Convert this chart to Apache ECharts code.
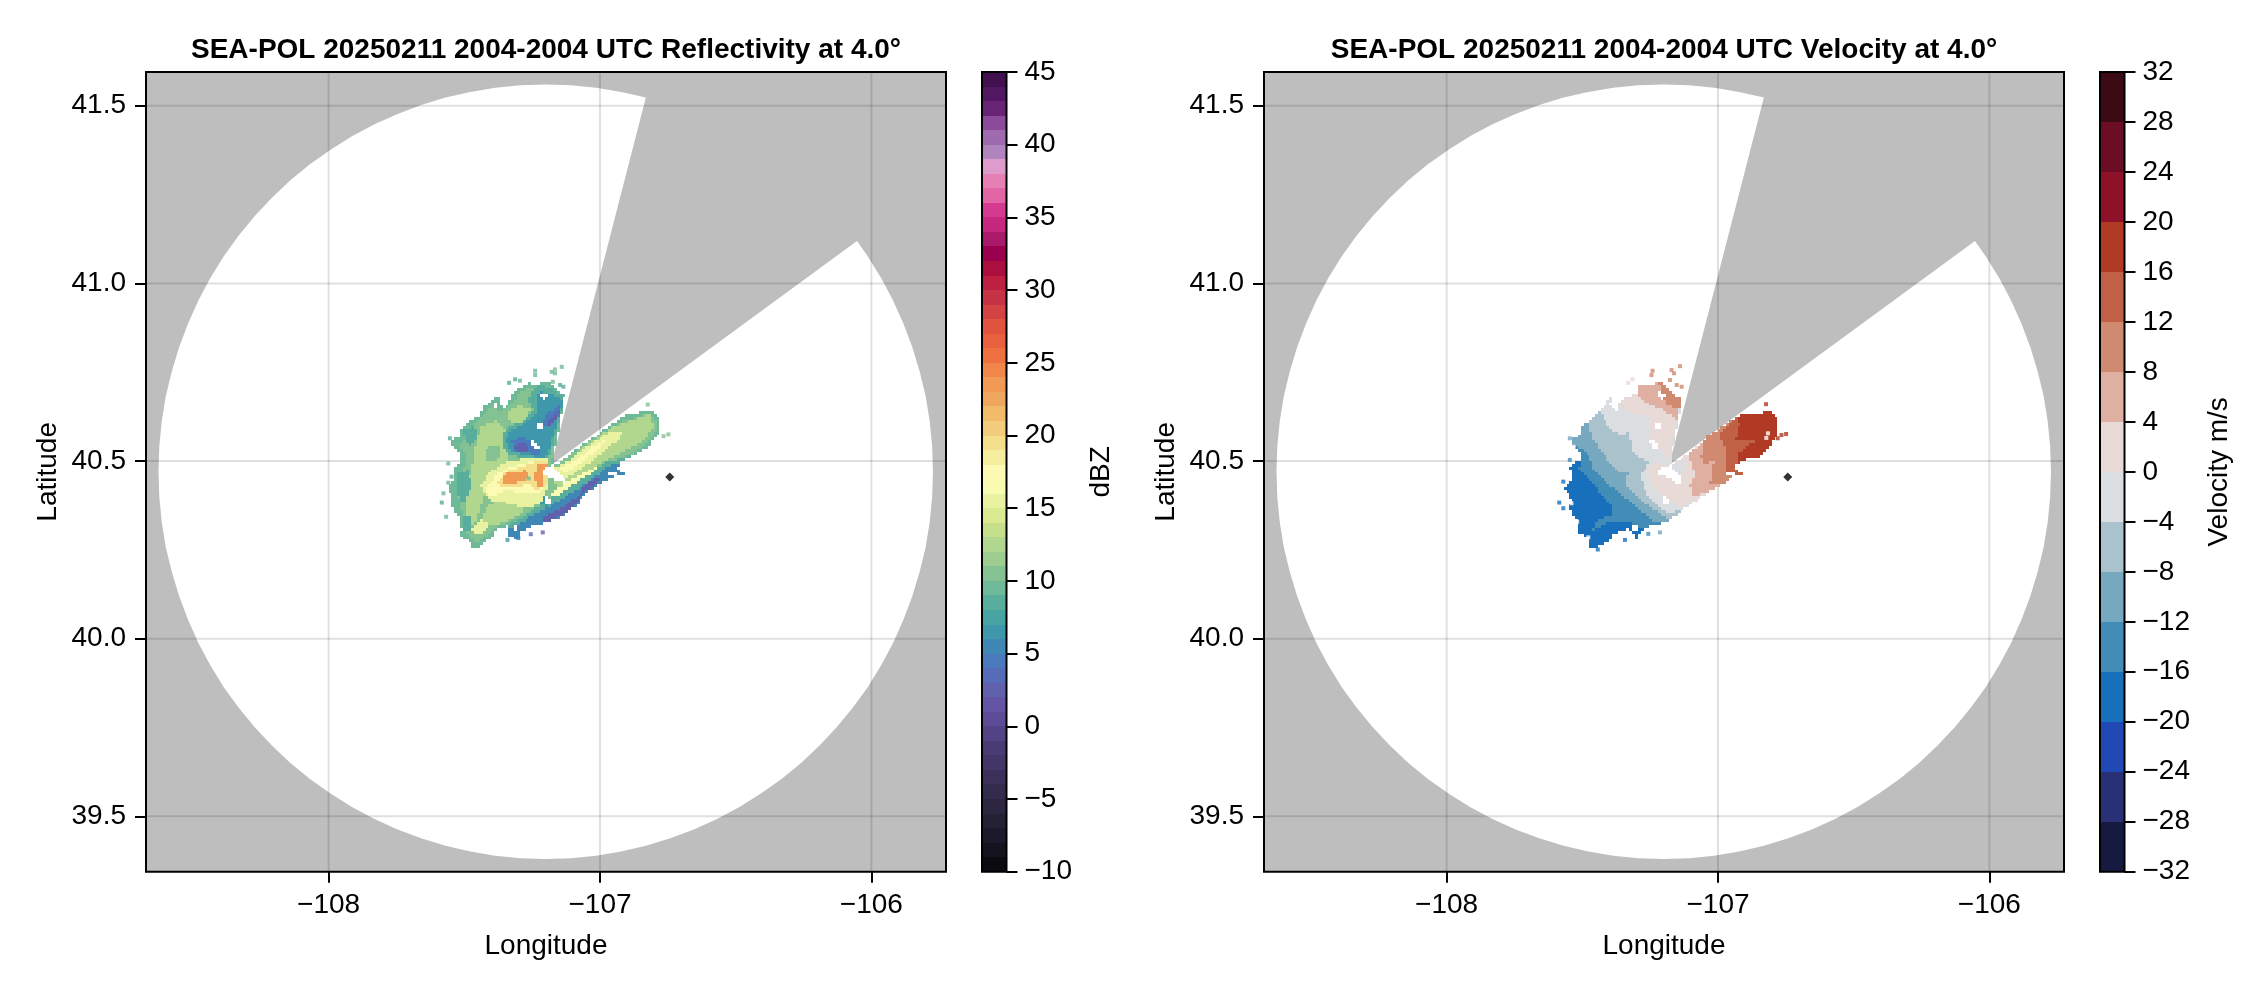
<!DOCTYPE html>
<html><head><meta charset="utf-8">
<script src="https://cdn.jsdelivr.net/npm/echarts@6/dist/echarts.min.js"></script>
<style>html,body{margin:0;padding:0;background:#fff}#c{width:2262px;height:990px}</style>
</head><body><div id="c"></div>
<script>
const lonTicks=[-108,-107,-106];
const latTicks=[39.5,40,40.5,41,41.5];
const reflBreakMin=-10, velBreakMin=-32, velBreakStep=4;
const reflTitle='SEA-POL 20250211 2004-2004 UTC Reflectivity at 4.0°';
const velTitle='SEA-POL 20250211 2004-2004 UTC Velocity at 4.0°';
const reflColors=['#0b0a11','#14121d','#1c192a','#252135','#2c2640','#332b4c','#3b3059','#433669','#493c75','#524286','#5c4b97','#6454a5','#6160ac','#566cb8','#4a79bc','#3f88b5','#3f97ab','#47a4a2','#58ad9c','#6eb997','#85c292','#9dcd91','#b1d68d','#c5df8a','#d9ea90','#e9f2a0','#f9fbb0','#fcfab3','#f7ed9f','#f4df8d','#f3cd7d','#f2bb69','#efa65e','#f09a55','#f1864b','#ee7040','#e9603f','#e0533f','#d44244','#c63344','#bd2040','#ab0f40','#9b004f','#aa1a6a','#c6287f','#d43a90','#e265a5','#e57fb4','#de9ccc','#b084bd','#a06bae','#8c4a9a','#692475','#511763','#42104f'];
const velColors=['#171a40','#293075','#2049b5','#1870bd','#428cb8','#76a8bf','#a9c2cc','#dadee1','#e8dad7','#dfb0a2','#cf8a70','#c06146','#b03a24','#8c1129','#6b0d25','#3b0a14'];
const radarSite=[[-106.743,40.455]];
const sectorRing=[[-107.18,40.489],[-106.831,41.523],[-106.922,41.539],[-107.014,41.551],[-107.107,41.558],[-107.2,41.56],[-107.293,41.558],[-107.386,41.551],[-107.478,41.539],[-107.569,41.523],[-107.659,41.502],[-107.746,41.477],[-107.831,41.448],[-107.914,41.414],[-107.993,41.376],[-108.069,41.335],[-108.141,41.29],[-108.209,41.241],[-108.273,41.189],[-108.332,41.134],[-108.387,41.076],[-108.436,41.015],[-108.48,40.952],[-108.518,40.887],[-108.551,40.82],[-108.578,40.752],[-108.6,40.683],[-108.615,40.612],[-108.624,40.541],[-108.627,40.47],[-108.624,40.399],[-108.615,40.328],[-108.6,40.257],[-108.578,40.188],[-108.551,40.12],[-108.518,40.053],[-108.48,39.988],[-108.436,39.925],[-108.387,39.864],[-108.332,39.806],[-108.273,39.751],[-108.209,39.699],[-108.141,39.65],[-108.069,39.605],[-107.993,39.564],[-107.914,39.526],[-107.831,39.492],[-107.746,39.463],[-107.659,39.438],[-107.569,39.417],[-107.478,39.401],[-107.386,39.389],[-107.293,39.382],[-107.2,39.38],[-107.107,39.382],[-107.014,39.389],[-106.922,39.401],[-106.831,39.417],[-106.741,39.438],[-106.654,39.463],[-106.569,39.492],[-106.486,39.526],[-106.407,39.564],[-106.331,39.605],[-106.259,39.65],[-106.191,39.699],[-106.127,39.751],[-106.068,39.806],[-106.013,39.864],[-105.964,39.925],[-105.92,39.988],[-105.882,40.053],[-105.849,40.12],[-105.822,40.188],[-105.8,40.257],[-105.785,40.328],[-105.776,40.399],[-105.773,40.47],[-105.776,40.541],[-105.785,40.612],[-105.8,40.683],[-105.822,40.752],[-105.849,40.82],[-105.882,40.887],[-105.92,40.952],[-105.964,41.015],[-106.013,41.076],[-106.053,41.119]];

// reflectivity regions, dBZ
const rOuter=[[-107.135,40.67],[-107.132,40.686],[-107.16,40.7],[-107.184,40.719],[-107.211,40.723],[-107.233,40.714],[-107.264,40.719],[-107.292,40.707],[-107.313,40.7],[-107.332,40.676],[-107.344,40.653],[-107.362,40.651],[-107.373,40.681],[-107.399,40.672],[-107.43,40.651],[-107.445,40.627],[-107.473,40.617],[-107.51,40.597],[-107.512,40.57],[-107.537,40.567],[-107.547,40.545],[-107.518,40.526],[-107.51,40.498],[-107.534,40.479],[-107.534,40.456],[-107.553,40.432],[-107.553,40.409],[-107.547,40.386],[-107.54,40.357],[-107.518,40.339],[-107.51,40.31],[-107.516,40.285],[-107.481,40.276],[-107.473,40.254],[-107.442,40.254],[-107.42,40.276],[-107.391,40.289],[-107.387,40.306],[-107.35,40.315],[-107.307,40.329],[-107.295,40.334],[-107.221,40.357],[-107.147,40.39],[-107.049,40.432],[-106.951,40.489],[-106.889,40.514],[-106.822,40.536],[-106.809,40.554],[-106.797,40.569],[-106.776,40.573],[-106.779,40.615],[-106.809,40.644],[-106.84,40.644],[-106.871,40.629],[-106.901,40.632],[-106.932,40.617],[-107.177,40.482]];
const rGreen=[[-107.16,40.69],[-107.209,40.709],[-107.264,40.704],[-107.301,40.69],[-107.325,40.658],[-107.369,40.639],[-107.399,40.658],[-107.424,40.634],[-107.461,40.606],[-107.491,40.587],[-107.497,40.559],[-107.516,40.545],[-107.497,40.517],[-107.491,40.493],[-107.516,40.465],[-107.528,40.418],[-107.516,40.371],[-107.497,40.334],[-107.491,40.296],[-107.454,40.268],[-107.405,40.296],[-107.381,40.315],[-107.319,40.334],[-107.221,40.371],[-107.147,40.404],[-107.049,40.446],[-106.951,40.498],[-106.877,40.521],[-106.822,40.55],[-106.791,40.587],[-106.797,40.615],[-106.822,40.634],[-106.877,40.62],[-106.938,40.606],[-107.177,40.482]];
const rLightA=[[-107.442,40.597],[-107.381,40.615],[-107.344,40.587],[-107.356,40.55],[-107.332,40.507],[-107.381,40.475],[-107.418,40.428],[-107.442,40.362],[-107.467,40.315],[-107.491,40.343],[-107.497,40.428],[-107.473,40.475],[-107.461,40.531]];
const rLightB=[[-107.344,40.634],[-107.295,40.658],[-107.258,40.644],[-107.264,40.615],[-107.319,40.601]];
const rLightC=[[-107.442,40.315],[-107.418,40.371],[-107.369,40.39],[-107.27,40.362],[-107.319,40.339],[-107.381,40.32]];
const rLightArm=[[-106.951,40.597],[-106.815,40.634],[-106.803,40.597],[-106.84,40.554],[-106.914,40.526],[-106.987,40.498],[-107.074,40.456],[-107.159,40.409],[-107.172,40.465],[-107.049,40.545]];
const rBlotchA=[[-107.504,40.587],[-107.461,40.597],[-107.448,40.559],[-107.479,40.545],[-107.497,40.559]];
const rBlotchB=[[-107.522,40.465],[-107.485,40.475],[-107.473,40.428],[-107.504,40.381],[-107.528,40.409]];
const rBlotchC=[[-107.51,40.343],[-107.473,40.348],[-107.479,40.306],[-107.504,40.301]];
const rBlotchD=[[-107.424,40.536],[-107.368,40.545],[-107.368,40.508],[-107.418,40.498]];
const rUp9=[[-107.135,40.681],[-107.178,40.705],[-107.221,40.714],[-107.252,40.695],[-107.264,40.672],[-107.245,40.639],[-107.276,40.615],[-107.325,40.601],[-107.356,40.578],[-107.362,40.545],[-107.332,40.517],[-107.264,40.507],[-107.196,40.498],[-107.178,40.531],[-107.16,40.587],[-107.141,40.644]];
const rUp6=[[-107.137,40.672],[-107.184,40.69],[-107.221,40.695],[-107.239,40.681],[-107.227,40.648],[-107.245,40.623],[-107.295,40.601],[-107.338,40.583],[-107.346,40.55],[-107.319,40.523],[-107.258,40.517],[-107.203,40.503],[-107.184,40.536],[-107.166,40.587],[-107.145,40.644]];
const rUp4A=[[-107.147,40.658],[-107.19,40.634],[-107.221,40.601],[-107.184,40.597],[-107.153,40.625]];
const rUp4B=[[-107.325,40.559],[-107.282,40.568],[-107.233,40.545],[-107.215,40.517],[-107.264,40.523],[-107.313,40.526]];
const rUp2A=[[-107.196,40.606],[-107.15,40.639],[-107.159,40.62],[-107.184,40.601]];
const rUp2B=[[-107.319,40.54],[-107.288,40.552],[-107.258,40.536],[-107.264,40.523],[-107.301,40.526]];
const rLow9=[[-107.356,40.31],[-107.282,40.343],[-107.221,40.376],[-107.159,40.409],[-107.074,40.447],[-106.975,40.498],[-106.926,40.508],[-106.889,40.514],[-106.938,40.489],[-107,40.451],[-107.086,40.4],[-107.147,40.362],[-107.245,40.329],[-107.307,40.315]];
const rLow5=[[-107.344,40.306],[-107.276,40.334],[-107.209,40.362],[-107.147,40.39],[-107.061,40.432],[-106.969,40.484],[-106.92,40.501],[-106.938,40.475],[-106.895,40.459],[-106.951,40.456],[-107,40.437],[-107.049,40.409],[-107.086,40.376],[-107.147,40.339],[-107.209,40.326],[-107.258,40.315],[-107.297,40.301],[-107.301,40.278],[-107.332,40.287]];
const rLow2=[[-107.196,40.348],[-107.135,40.371],[-107.086,40.4],[-107.037,40.442],[-106.987,40.456],[-107.012,40.437],[-107.061,40.409],[-107.086,40.381],[-107.135,40.348],[-107.196,40.329],[-107.221,40.334]];
const rSpot6=[[-107.221,40.409],[-107.19,40.404],[-107.196,40.371],[-107.227,40.381]];
const rMid15=[[-107.442,40.428],[-107.405,40.47],[-107.344,40.498],[-107.27,40.508],[-107.196,40.508],[-107.184,40.475],[-107.196,40.418],[-107.221,40.376],[-107.282,40.367],[-107.344,40.381],[-107.405,40.39]];
const rMid17=[[-107.42,40.42],[-107.381,40.461],[-107.332,40.484],[-107.258,40.498],[-107.196,40.498],[-107.196,40.428],[-107.233,40.409],[-107.282,40.409],[-107.344,40.418],[-107.393,40.401],[-107.42,40.409]];
const rMid20=[[-107.375,40.442],[-107.35,40.47],[-107.282,40.484],[-107.233,40.501],[-107.19,40.501],[-107.196,40.428],[-107.239,40.418],[-107.264,40.437],[-107.319,40.423],[-107.371,40.423]];
const rOrangeA=[[-107.362,40.447],[-107.344,40.467],[-107.276,40.473],[-107.255,40.461],[-107.28,40.442],[-107.332,40.435],[-107.359,40.432]];
const rOrangeB=[[-107.236,40.492],[-107.196,40.498],[-107.194,40.479],[-107.215,40.465],[-107.211,40.432],[-107.231,40.426],[-107.245,40.456],[-107.233,40.475]];
const rYellowSW=[[-107.473,40.31],[-107.442,40.334],[-107.411,40.329],[-107.418,40.306],[-107.448,40.292]];
const rArm15=[[-107.169,40.482],[-107.123,40.498],[-107.049,40.54],[-106.975,40.578],[-106.92,40.587],[-106.926,40.564],[-107,40.517],[-107.086,40.47],[-107.129,40.451],[-107.166,40.465]];
const rArm17=[[-107.153,40.482],[-107.098,40.498],[-107.018,40.545],[-106.963,40.564],[-106.987,40.545],[-107.074,40.493],[-107.129,40.465]];
const rStreak16=[[-107.184,40.409],[-107.11,40.446],[-106.994,40.493],[-107.012,40.476],[-107.104,40.432],[-107.172,40.395]];
const rHole1=[[-107.221,40.69],[-107.194,40.692],[-107.194,40.678],[-107.215,40.676]];
const rHole2=[[-107.237,40.613],[-107.215,40.608],[-107.211,40.587],[-107.233,40.587]];
const rHole3=[[-107.258,40.557],[-107.231,40.552],[-107.218,40.529],[-107.243,40.533]];
const rHole4=[[-107.211,40.476],[-107.178,40.486],[-107.147,40.463],[-107.125,40.451],[-107.133,40.437],[-107.166,40.445],[-107.19,40.456],[-107.215,40.465]];
const rHole5=[[-107.2,40.4],[-107.182,40.395],[-107.174,40.379],[-107.2,40.381]];
const rHole6=[[-106.969,40.465],[-106.938,40.465],[-106.941,40.459],[-106.965,40.459]];
const rHole7=[[-107.319,40.317],[-107.307,40.317],[-107.307,40.306],[-107.319,40.306]];
const rHole8=[[-107.393,40.664],[-107.378,40.66],[-107.378,40.648],[-107.395,40.651]];
const reflLayers=[[9,rOuter],[10,rGreen],[12,rLightA],[12,rLightB],[12,rLightC],[12,rLightArm],[8,rBlotchA],[8,rBlotchB],[8,rBlotchC],[10,rBlotchD],[8,rUp9],[6,rUp6],[4,rUp4A],[4,rUp4B],[2,rUp2A],[2,rUp2B],[8,rLow9],[5,rLow5],[2,rLow2],[6,rSpot6],[15,rMid15],[17,rMid17],[19,rMid20],[23,rOrangeA],[23,rOrangeB],[15,rYellowSW],[15,rArm15],[17,rArm17],[16,rStreak16],[null,rHole1],[null,rHole2],[null,rHole3],[null,rHole4],[null,rHole5],[null,rHole6],[null,rHole7],[null,rHole8]];
const reflSpecks=[[-107.141,40.765,9],[-107.166,40.758,10],[-107.178,40.751,9],[-107.166,40.747,9],[-107.239,40.754,9],[-107.239,40.742,9],[-107.313,40.73,8],[-107.335,40.72,8],[-107.295,40.726,9],[-107.174,40.723,9],[-107.147,40.714,8],[-107.135,40.709,8],[-107.559,40.493,9],[-107.577,40.409,9],[-107.583,40.383,8],[-107.567,40.343,9],[-107.547,40.456,8],[-107.559,40.439,9],[-107.553,40.564,8],[-106.748,40.575,10],[-106.766,40.57,10],[-106.824,40.659,10],[-107.255,40.294,3],[-107.211,40.299,2],[-107.341,40.278,6],[-107.301,40.283,5],[-107.263,40.451,9]];

// velocity regions, m/s
const vEdge=[[-107.134,40.676],[-107.165,40.686],[-107.189,40.714],[-107.214,40.726],[-107.245,40.714],[-107.294,40.714],[-107.3,40.69],[-107.337,40.681],[-107.361,40.667],[-107.371,40.639],[-107.398,40.658],[-107.386,40.69],[-107.429,40.648],[-107.478,40.611],[-107.509,40.597],[-107.511,40.569],[-107.536,40.564],[-107.54,40.545],[-107.511,40.526],[-107.509,40.503],[-107.546,40.484],[-107.533,40.456],[-107.564,40.423],[-107.54,40.39],[-107.546,40.362],[-107.515,40.329],[-107.519,40.296],[-107.478,40.287],[-107.472,40.254],[-107.441,40.259],[-107.398,40.276],[-107.386,40.296],[-107.325,40.31],[-107.3,40.28],[-107.294,40.296],[-107.257,40.315],[-107.177,40.332],[-107.134,40.362],[-107.079,40.39],[-107.023,40.418],[-106.98,40.435],[-106.944,40.456],[-106.894,40.459],[-106.937,40.475],[-106.934,40.489],[-106.882,40.512],[-106.845,40.51],[-106.808,40.545],[-106.784,40.564],[-106.778,40.615],[-106.808,40.644],[-106.839,40.634],[-106.894,40.634],[-106.931,40.623],[-107.177,40.484]];
const vB16=[[-107.511,40.479],[-107.466,40.445],[-107.435,40.409],[-107.392,40.376],[-107.392,40.348],[-107.445,40.336],[-107.462,40.306],[-107.435,40.315],[-107.404,40.329],[-107.349,40.326],[-107.322,40.326],[-107.318,40.31]];
const vB12=[[-107.521,40.54],[-107.484,40.526],[-107.454,40.47],[-107.411,40.437],[-107.368,40.414],[-107.325,40.386],[-107.288,40.362],[-107.257,40.343],[-107.226,40.326]];
const vB8=[[-107.478,40.608],[-107.457,40.559],[-107.398,40.493],[-107.361,40.47],[-107.312,40.47],[-107.339,40.456],[-107.331,40.423],[-107.282,40.386],[-107.239,40.364],[-107.177,40.332]];
const vB4=[[-107.435,40.644],[-107.408,40.597],[-107.361,40.576],[-107.327,40.58],[-107.315,40.523],[-107.257,40.498],[-107.285,40.456],[-107.266,40.409],[-107.214,40.367],[-107.177,40.353]];
const vPos2Up=[[-107.366,40.66],[-107.312,40.634],[-107.251,40.623],[-107.248,40.587],[-107.253,40.554],[-107.202,40.522],[-107.183,40.498],[-107.159,40.587],[-107.137,40.672]];
const vPos2Low=[[-107.177,40.484],[-107.232,40.501],[-107.263,40.475],[-107.245,40.428],[-107.202,40.4],[-107.14,40.371]];
const vNeg2Patch=[[-107.171,40.489],[-107.128,40.503],[-107.116,40.475],[-107.14,40.461],[-107.171,40.475]];
const vPos6Up=[[-107.297,40.686],[-107.257,40.66],[-107.202,40.644],[-107.152,40.615]];
const vPos6East=[[-107.11,40.52],[-107.085,40.465],[-107.103,40.428],[-107.091,40.4]];
const vPos10Up=[[-107.22,40.723],[-107.189,40.714],[-107.165,40.686],[-107.134,40.676],[-107.143,40.645],[-107.189,40.66],[-107.208,40.695]];
const vPos10East=[[-107.046,40.567],[-107.06,40.514],[-107.054,40.489],[-107.015,40.505],[-107.03,40.435]];
const vPos14=[[-106.995,40.58],[-106.971,40.531],[-106.971,40.456]];
const vPos18=[[-106.931,40.623],[-106.922,40.604],[-106.937,40.554],[-106.866,40.554],[-106.925,40.522],[-106.934,40.489]];
const vHoles=[[[-107.223,40.695],[-107.196,40.692],[-107.192,40.678],[-107.214,40.676]],[[-107.239,40.611],[-107.216,40.608],[-107.214,40.587],[-107.235,40.589]],[[-107.257,40.559],[-107.229,40.554],[-107.218,40.531],[-107.241,40.536]],[[-107.226,40.477],[-107.18,40.486],[-107.143,40.456],[-107.128,40.442],[-107.152,40.437],[-107.189,40.454],[-107.22,40.463]],[[-107.202,40.4],[-107.18,40.397],[-107.177,40.381],[-107.202,40.381]],[[-106.968,40.468],[-106.94,40.468],[-106.94,40.46],[-106.968,40.46]],[[-107.321,40.32],[-107.294,40.32],[-107.294,40.306],[-107.321,40.306]],[[-107.395,40.664],[-107.372,40.655],[-107.372,40.643],[-107.392,40.648]]];
const velLayers=[[-18,vEdge],[-14,vB16.concat(vEdge.slice(35),vEdge.slice(0,20))],[-10,vB12.concat(vEdge.slice(36),vEdge.slice(0,18))],[-6,vB8.concat(vEdge.slice(37),vEdge.slice(0,14))],[-2,vB4.concat(vEdge.slice(37),vEdge.slice(0,13))],[2,vPos2Up.concat(vEdge.slice(1,8))],[2,vPos2Low.concat(vEdge.slice(38,54))],[-2,vNeg2Patch],[6,vEdge.slice(0,6).concat(vPos6Up)],[6,vPos6East.concat(vEdge.slice(39,54))],[10,vPos10Up],[10,vPos10East.concat(vEdge.slice(40,54))],[14,vPos14.concat(vEdge.slice(41,54))],[18,vPos18.concat(vEdge.slice(45,53))]].concat(vHoles.map(h=>[null,h]));
const velSpecks=[[-107.14,40.767,10],[-107.171,40.756,10],[-107.162,40.747,10],[-107.177,40.728,10],[-107.241,40.754,10],[-107.245,40.742,8],[-107.315,40.73,2],[-107.331,40.72,2],[-107.152,40.714,8],[-107.134,40.709,8],[-106.823,40.66,18],[-106.766,40.573,18],[-106.749,40.576,18],[-106.78,40.564,18],[-107.585,40.383,-18],[-107.57,40.442,-18],[-107.546,40.503,-14],[-107.57,40.367,-18],[-107.214,40.299,-10],[-107.257,40.295,-14],[-107.343,40.278,-18],[-107.443,40.251,-18],[-107.546,40.564,-10],[-107.532,40.54,null],[-107.54,40.381,null],[-107.519,40.329,null],[-107.478,40.285,null],[-106.822,40.565,null],[-106.816,40.578,null]];

const lonRange=[-108.673,-105.725], latRange=[39.344,41.595];
const cellLon=0.0105, cellLat=0.0082, fieldLon=[-107.6,-106.74], fieldLat=[40.23,40.78];
const reflColor=v=>v===null?'#ffffff':reflColors[Math.floor(v-reflBreakMin)];
const velColor=v=>v===null?'#ffffff':velColors[Math.floor((v-velBreakMin)/velBreakStep)];
const FONT='"Liberation Sans"';
const FS=28;
const PANEL2=1118;
const grids=[];const xAxes=[];const yAxes=[];const series=[];
const minus=v=>String(v).replace('-','\u2212');

function inRing(x,y,ring){let c=false;
  for(let i=0,j=ring.length-1;i<ring.length;j=i++){const a=ring[i],b=ring[j];
    if((a[1]>y)!==(b[1]>y)&&x<(b[0]-a[0])*(y-a[1])/(b[1]-a[1])+a[0])c=!c;}
  return c;}
function regionCells(layers){const out=[];
  for(let la=fieldLat[0];la<fieldLat[1];la+=cellLat)for(let lo=fieldLon[0];lo<fieldLon[1];lo+=cellLon){
    for(let k=layers.length-1;k>=0;k--){if(inRing(lo+cellLon/2,la+cellLat/2,layers[k][1])){if(layers[k][0]!==null)out.push([lo,la,layers[k][0]]);break;}}
  }
  return out;}
function panel(off,layers,specks,colorOf,cbColors,cbMin,cbMax,cbStep,cbStepTick,cbName,cbNameGap){
  const a=grids.length;
  grids.push({left:146+off,top:72,width:800,height:799.7,show:true,borderColor:'#000',borderWidth:2,backgroundColor:'transparent'});
  xAxes.push({type:'value',gridIndex:a,min:lonRange[0],max:lonRange[1],position:'bottom',
    name:'Longitude',nameLocation:'middle',nameGap:61,nameTextStyle:{fontFamily:FONT,fontSize:FS,color:'#000'},
    axisLine:{show:false,onZero:false},axisTick:{show:true,length:11,lineStyle:{color:'#000',width:2},customValues:lonTicks},
    axisLabel:{color:'#000',fontFamily:FONT,fontSize:FS,margin:20,customValues:lonTicks,formatter:v=>minus(v)},
    splitLine:{show:false}});
  yAxes.push({type:'value',gridIndex:a,min:latRange[0],max:latRange[1],position:'left',
    name:'Latitude',nameLocation:'middle',nameGap:84,nameRotate:90,nameTextStyle:{fontFamily:FONT,fontSize:FS,color:'#000'},
    axisLine:{show:false,onZero:false},axisTick:{show:true,length:11,lineStyle:{color:'#000',width:2},customValues:latTicks},
    axisLabel:{color:'#000',fontFamily:FONT,fontSize:FS,margin:20,padding:[3,0,0,0],customValues:latTicks,formatter:v=>v.toFixed(1)},
    splitLine:{show:false}});
  series.push({type:'custom',xAxisIndex:a,yAxisIndex:a,z:-2,silent:true,clip:true,data:[[0]],
    renderItem:(p,api)=>{const t=api.coord([lonRange[0],latRange[1]]),b=api.coord([lonRange[1],latRange[0]]);
      return {type:'rect',shape:{x:t[0],y:t[1],width:b[0]-t[0],height:b[1]-t[1]},style:{fill:'#bebebe'}};}});
  series.push({type:'custom',xAxisIndex:a,yAxisIndex:a,z:-1,silent:true,clip:true,data:[[0]],
    renderItem:(p,api)=>({type:'polygon',shape:{points:sectorRing.map(c=>api.coord(c))},style:{fill:'#ffffff'}})});
  const lines=lonTicks.map(v=>[[v,latRange[0]],[v,latRange[1]]]).concat(latTicks.map(v=>[[lonRange[0],v],[lonRange[1],v]]));
  series.push({type:'custom',xAxisIndex:a,yAxisIndex:a,z:1,silent:true,clip:true,data:lines.map((l,i)=>[i]),
    renderItem:(p,api)=>{const l=lines[api.value(0)];const s=api.coord(l[0]),e=api.coord(l[1]);
      return {type:'line',shape:{x1:s[0],y1:s[1],x2:e[0],y2:e[1]},style:{stroke:'rgba(0,0,0,0.12)',lineWidth:2,fill:null}};}});
  series.push({type:'custom',xAxisIndex:a,yAxisIndex:a,z:3,silent:true,clip:true,data:regionCells(layers),
    renderItem:(p,api)=>{const lo=api.value(0),la=api.value(1);
      const s=api.coord([lo,la+cellLat]),e=api.coord([lo+cellLon,la]);
      const x=Math.round(s[0]),y=Math.round(s[1]);
      return {type:'rect',shape:{x:x,y:y,width:Math.round(e[0])-x,height:Math.round(e[1])-y},style:{fill:colorOf(api.value(2))}};}});
  series.push({type:'scatter',xAxisIndex:a,yAxisIndex:a,z:4,silent:true,symbol:'rect',symbolSize:4,data:specks.map(s=>[s[0],s[1],s[2]]),
    itemStyle:{color:p=>colorOf(p.value[2]===undefined?null:p.value[2])}});
  series.push({type:'scatter',xAxisIndex:a,yAxisIndex:a,z:5,silent:true,symbol:'diamond',symbolSize:9,data:radarSite,itemStyle:{color:'#000'}});
  const b=grids.length;
  grids.push({left:982+off,top:72,width:24.5,height:799.7,show:true,borderColor:'#000',borderWidth:2,backgroundColor:'transparent'});
  xAxes.push({type:'value',gridIndex:b,min:0,max:1,show:false});
  yAxes.push({type:'value',gridIndex:b,min:cbMin,max:cbMax,interval:cbStepTick,position:'right',
    name:cbName,nameLocation:'middle',nameGap:cbNameGap,nameRotate:90,nameTextStyle:{fontFamily:FONT,fontSize:FS,color:'#000'},
    axisLine:{show:false,onZero:false},axisTick:{show:true,length:11,lineStyle:{color:'#000',width:2}},
    axisLabel:{color:'#000',fontFamily:FONT,fontSize:FS,margin:18,padding:[3,0,0,0],formatter:v=>minus(v)},splitLine:{show:false}});
  series.push({type:'custom',xAxisIndex:b,yAxisIndex:b,z:-1,silent:true,clip:true,data:cbColors.map((c,i)=>[i]),
    renderItem:(p,api)=>{const i=api.value(0);
      const t=api.coord([0,cbMin+(i+1)*cbStep]),u=api.coord([1,cbMin+i*cbStep]);
      const y0=Math.round(t[1]),y1=Math.round(u[1]);
      return {type:'rect',shape:{x:t[0],y:y0,width:u[0]-t[0],height:y1-y0},style:{fill:cbColors[i]}};}});
}
panel(0,reflLayers,reflSpecks,reflColor,reflColors,-10,45,1,5,'dBZ',81);
panel(PANEL2,velLayers,velSpecks,velColor,velColors,-32,32,4,4,'Velocity m/s',81);

const chart=echarts.init(document.getElementById('c'),null,{renderer:'canvas',width:2262,height:990});
chart.setOption({animation:false,backgroundColor:'#fff',
  title:[{text:reflTitle,left:541,top:31,textAlign:'center',textStyle:{fontFamily:FONT,fontSize:FS,fontWeight:'bold',color:'#000'}},
         {text:velTitle,left:541+PANEL2,top:31,textAlign:'center',textStyle:{fontFamily:FONT,fontSize:FS,fontWeight:'bold',color:'#000'}}],
  grid:grids,xAxis:xAxes,yAxis:yAxes,series:series});
</script></body></html>
